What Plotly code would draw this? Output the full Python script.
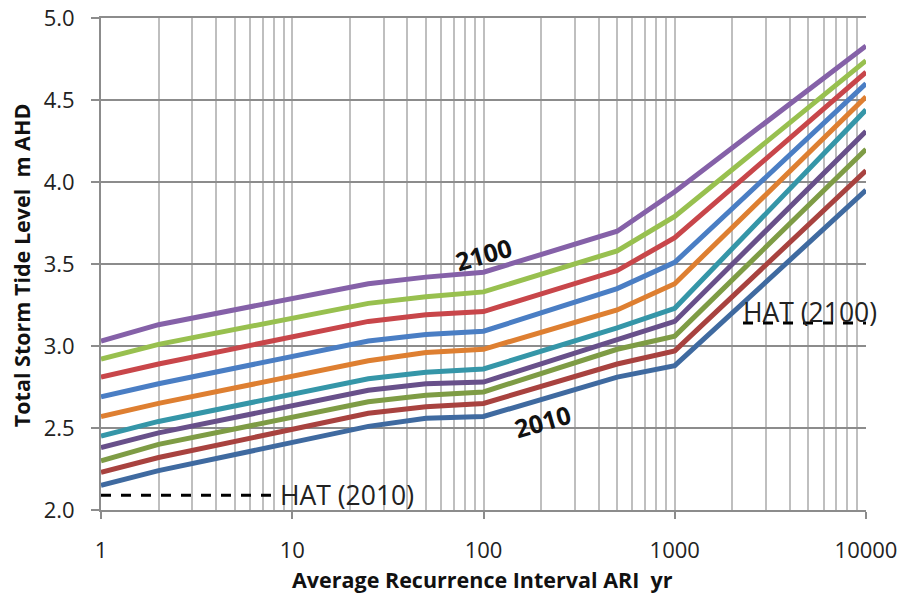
import plotly.graph_objects as go

# ---- data ----
ari = [1, 2, 25, 50, 100, 500, 1000, 10000]
years = ["2010", "2020", "2030", "2040", "2050", "2060", "2070", "2080", "2090", "2100"]
levels = {
    "2010": [2.15, 2.24, 2.51, 2.56, 2.57, 2.81, 2.88, 3.95],
    "2020": [2.23, 2.32, 2.59, 2.63, 2.65, 2.89, 2.97, 4.07],
    "2030": [2.30, 2.40, 2.66, 2.70, 2.72, 2.98, 3.06, 4.20],
    "2040": [2.38, 2.47, 2.73, 2.77, 2.78, 3.04, 3.15, 4.31],
    "2050": [2.45, 2.54, 2.80, 2.84, 2.86, 3.11, 3.23, 4.44],
    "2060": [2.57, 2.65, 2.91, 2.96, 2.98, 3.22, 3.38, 4.52],
    "2070": [2.69, 2.77, 3.03, 3.07, 3.09, 3.35, 3.51, 4.60],
    "2080": [2.81, 2.89, 3.15, 3.19, 3.21, 3.46, 3.66, 4.67],
    "2090": [2.92, 3.01, 3.26, 3.30, 3.33, 3.58, 3.79, 4.74],
    "2100": [3.03, 3.13, 3.38, 3.42, 3.45, 3.70, 3.94, 4.83],
}
colors = ["#3F6AA0", "#A8423F", "#7E9C45", "#68508A", "#3596A8",
          "#DE7F31", "#4A7EC4", "#C8464A", "#98C04F", "#8561A8"]

hat2010_x = [1, 7.9]
hat2010_y = [2.09, 2.09]
hat2100_x = [2275, 10000]
hat2100_y = [3.14, 3.14]

x_ticks = [1, 10, 100, 1000, 10000]
x_ticktext = ["1", "10", "100", "1000", "10000"]
y_ticks = [2.0, 2.5, 3.0, 3.5, 4.0, 4.5, 5.0]
y_ticktext = ["2.0", "2.5", "3.0", "3.5", "4.0", "4.5", "5.0"]
minor_x = [m * d for d in [1, 10, 100, 1000] for m in range(2, 10)]

FONT = "Open Sans, sans-serif"
NB = "\u00a0"

fig = go.Figure()
for yr, c in zip(years, colors):
    fig.add_trace(go.Scatter(x=ari, y=levels[yr], mode="lines", name=yr,
                             line=dict(color=c, width=5), showlegend=False))

for hx, hy in [(hat2010_x, hat2010_y), (hat2100_x, hat2100_y)]:
    fig.add_trace(go.Scatter(x=hx, y=hy, mode="lines", showlegend=False,
                             line=dict(color="black", width=3, dash="10px,10px")))

fig.update_layout(
    width=902, height=599,
    margin=dict(l=101, r=36, t=18, b=89, autoexpand=False),
    paper_bgcolor="white", plot_bgcolor="white",
    font=dict(family=FONT, color="#222"),
    annotations=[
        dict(text="<b>Average Recurrence Interval ARI" + NB + NB + "yr</b>",
             xref="paper", yref="paper",
             x=0.4993, y=-0.142, showarrow=False, font=dict(size=21.5, color="#111"),
             xanchor="center", yanchor="middle"),
        dict(text="<b>Total Storm Tide Level" + NB + NB + "m AHD</b>",
             xref="paper", yref="paper",
             x=-0.103, y=0.498, showarrow=False, textangle=-90,
             font=dict(size=21.5, color="#111"), xanchor="center", yanchor="middle"),
        dict(text="<b>2100</b>", x=2.0, y=3.56, showarrow=False, textangle=-16,
             font=dict(size=25, color="#111")),
        dict(text="<b>2010</b>", x=2.311, y=2.54, showarrow=False, textangle=-16,
             font=dict(size=25, color="#111")),
        dict(text="HAT (2010)", x=0.9, y=2.09, xanchor="left", yanchor="middle",
             showarrow=False, xshift=5, font=dict(size=26.5, color="#222")),
        dict(text="HAT (2100)", x=3.357, y=3.14, xanchor="left", yanchor="middle",
             showarrow=False, yshift=11, xshift=-2, font=dict(size=26.5, color="#222")),
    ],
)

fig.update_xaxes(
    type="log", range=[0, 4], automargin=False,
    tickvals=x_ticks, ticktext=x_ticktext,
    tickfont=dict(size=22, family=FONT, color="#222"),
    ticks="outside", ticklen=7, tickwidth=2, tickcolor="#8c8c8c",
    ticklabelstandoff=13, ticklabeloverflow="allow",
    showgrid=True, gridcolor="#bfbfbf", gridwidth=2,
    minor=dict(tickvals=minor_x, showgrid=True, gridcolor="#bfbfbf", gridwidth=2, ticks=""),
    showline=True, linecolor="#8c8c8c", linewidth=2, mirror=True,
    zeroline=False,
)
fig.update_yaxes(
    range=[2.0, 5.0], automargin=False,
    tickvals=y_ticks, ticktext=y_ticktext,
    tickfont=dict(size=22, family=FONT, color="#222"),
    ticks="outside", ticklen=8, tickwidth=2, tickcolor="#8c8c8c",
    ticklabelstandoff=12, ticklabeloverflow="allow",
    showgrid=True, gridcolor="#8c8c8c", gridwidth=2,
    showline=True, linecolor="#8c8c8c", linewidth=2,
    zeroline=False,
)

fig.write_html(
    "out.html",
    config={"displayModeBar": False, "staticPlot": True},
    post_script="document.body.style.margin='0';document.body.style.overflow='hidden';",
)
